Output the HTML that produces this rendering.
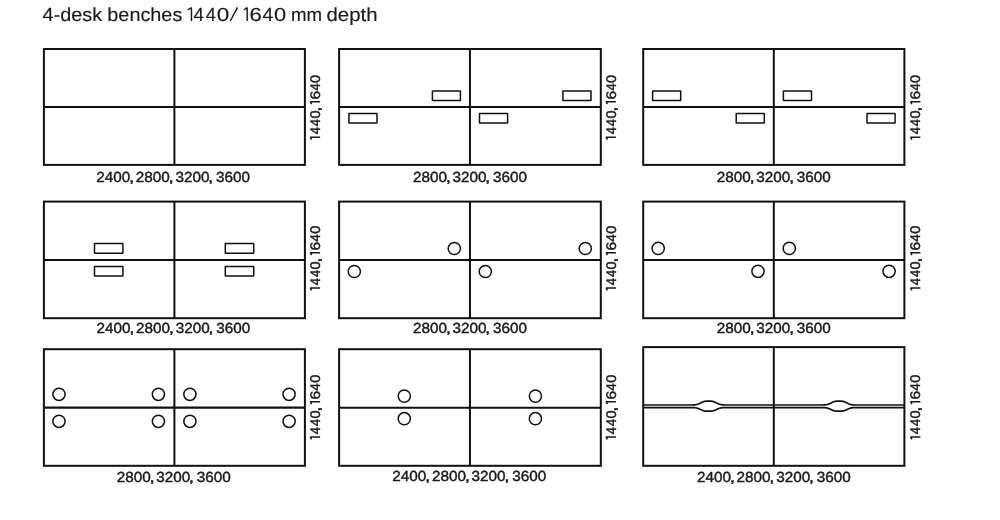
<!DOCTYPE html>
<html><head><meta charset="utf-8"><style>
html,body{margin:0;padding:0;background:#fff;width:1000px;height:520px;overflow:hidden}
svg{display:block}
.t{will-change:transform}
.g{fill:none;stroke:#111}
.t text.tt{stroke-width:0.15px}
.t text{text-rendering:geometricPrecision;fill:#1a1a1a;stroke:#1a1a1a;stroke-width:0.42px;font-family:"Liberation Sans",sans-serif}
</style></head><body>
<svg width="1000" height="520" viewBox="0 0 1000 520">
<g class="g">
<rect x="43.90" y="49.00" width="261.00" height="115.90" stroke-width="2.0"/>
<line x1="174.40" y1="49.00" x2="174.40" y2="164.90" stroke-width="2.0"/>
<line x1="43.90" y1="107.00" x2="304.90" y2="107.00" stroke-width="2.1"/>
<rect x="339.10" y="49.00" width="261.70" height="115.90" stroke-width="2.0"/>
<line x1="469.95" y1="49.00" x2="469.95" y2="164.90" stroke-width="2.0"/>
<line x1="339.10" y1="107.00" x2="600.80" y2="107.00" stroke-width="2.1"/>
<rect x="643.20" y="49.00" width="261.20" height="115.90" stroke-width="2.0"/>
<line x1="773.80" y1="49.00" x2="773.80" y2="164.90" stroke-width="2.0"/>
<line x1="643.20" y1="107.00" x2="904.40" y2="107.00" stroke-width="2.1"/>
<rect x="43.90" y="201.60" width="261.00" height="116.60" stroke-width="2.0"/>
<line x1="174.40" y1="201.60" x2="174.40" y2="318.20" stroke-width="2.0"/>
<line x1="43.90" y1="260.00" x2="304.90" y2="260.00" stroke-width="2.0"/>
<rect x="339.10" y="201.60" width="261.70" height="116.60" stroke-width="2.0"/>
<line x1="469.95" y1="201.60" x2="469.95" y2="318.20" stroke-width="2.0"/>
<line x1="339.10" y1="260.00" x2="600.80" y2="260.00" stroke-width="2.0"/>
<rect x="643.20" y="201.60" width="261.20" height="116.60" stroke-width="2.0"/>
<line x1="773.80" y1="201.60" x2="773.80" y2="318.20" stroke-width="2.0"/>
<line x1="643.20" y1="260.00" x2="904.40" y2="260.00" stroke-width="2.0"/>
<rect x="43.90" y="349.20" width="261.00" height="116.60" stroke-width="2.0"/>
<line x1="174.40" y1="349.20" x2="174.40" y2="465.80" stroke-width="2.0"/>
<line x1="43.90" y1="407.70" x2="304.90" y2="407.70" stroke-width="2.3"/>
<rect x="339.10" y="349.20" width="261.70" height="116.60" stroke-width="2.0"/>
<line x1="469.95" y1="349.20" x2="469.95" y2="465.80" stroke-width="2.0"/>
<line x1="339.10" y1="407.70" x2="600.80" y2="407.70" stroke-width="2.1"/>
<rect x="643.20" y="347.10" width="261.20" height="118.70" stroke-width="2.0"/>
<line x1="773.80" y1="347.10" x2="773.80" y2="465.80" stroke-width="2.0"/>
<rect x="432.4" y="91" width="28.0" height="9.6" rx="0.3" stroke-width="1.5"/>
<rect x="562.9" y="91" width="28.1" height="9.6" rx="0.3" stroke-width="1.5"/>
<rect x="348.9" y="113.5" width="28.1" height="9.6" rx="0.3" stroke-width="1.5"/>
<rect x="479.5" y="113.5" width="28.1" height="9.6" rx="0.3" stroke-width="1.5"/>
<rect x="652.6" y="91" width="28.1" height="9.6" rx="0.3" stroke-width="1.5"/>
<rect x="783.4" y="91" width="28.1" height="9.6" rx="0.3" stroke-width="1.5"/>
<rect x="736.2" y="113.5" width="28.1" height="9.6" rx="0.3" stroke-width="1.5"/>
<rect x="867.0" y="113.5" width="28.1" height="9.6" rx="0.3" stroke-width="1.5"/>
<rect x="94.5" y="243.6" width="28.4" height="9.6" rx="0.3" stroke-width="1.5"/>
<rect x="225.3" y="243.6" width="28.4" height="9.6" rx="0.3" stroke-width="1.5"/>
<rect x="94.5" y="266.5" width="28.4" height="9.6" rx="0.3" stroke-width="1.5"/>
<rect x="225.3" y="266.5" width="28.4" height="9.6" rx="0.3" stroke-width="1.5"/>
<circle cx="454.3" cy="248.5" r="6.1" stroke-width="1.5"/>
<circle cx="585.3" cy="248.5" r="6.1" stroke-width="1.5"/>
<circle cx="354.3" cy="271.5" r="6.1" stroke-width="1.5"/>
<circle cx="485.3" cy="271.5" r="6.1" stroke-width="1.5"/>
<circle cx="658.2" cy="248.4" r="6.1" stroke-width="1.5"/>
<circle cx="789.3" cy="248.4" r="6.1" stroke-width="1.5"/>
<circle cx="758.0" cy="271.3" r="6.1" stroke-width="1.5"/>
<circle cx="889.1" cy="271.3" r="6.1" stroke-width="1.5"/>
<circle cx="59.0" cy="394.3" r="6.1" stroke-width="1.5"/>
<circle cx="59.0" cy="421.3" r="6.1" stroke-width="1.5"/>
<circle cx="158.4" cy="394.3" r="6.1" stroke-width="1.5"/>
<circle cx="158.4" cy="421.3" r="6.1" stroke-width="1.5"/>
<circle cx="189.9" cy="394.3" r="6.1" stroke-width="1.5"/>
<circle cx="189.9" cy="421.3" r="6.1" stroke-width="1.5"/>
<circle cx="289.1" cy="394.3" r="6.1" stroke-width="1.5"/>
<circle cx="289.1" cy="421.3" r="6.1" stroke-width="1.5"/>
<circle cx="404.3" cy="396.1" r="6.1" stroke-width="1.5"/>
<circle cx="404.3" cy="418.7" r="6.1" stroke-width="1.5"/>
<circle cx="535.4" cy="396.1" r="6.1" stroke-width="1.5"/>
<circle cx="535.4" cy="418.7" r="6.1" stroke-width="1.5"/>
<path d="M643.2 405.0 L692.6 405.0 L692.60 404.976 L693.10 404.962 L693.60 404.941 L694.10 404.912 L694.60 404.871 L695.10 404.817 L695.60 404.746 L696.10 404.656 L696.60 404.545 L697.10 404.411 L697.60 404.255 L698.10 404.075 L698.60 403.875 L699.10 403.657 L699.60 403.424 L700.10 403.182 L700.60 402.936 L701.10 402.692 L701.60 402.454 L702.10 402.228 L702.60 402.018 L703.10 401.829 L703.60 401.661 L704.10 401.518 L704.60 401.398 L705.10 401.302 L705.60 401.229 L706.10 401.175 L706.60 401.139 L707.10 401.116 L707.60 401.105 L708.10 401.101 L708.60 401.100 L709.10 401.101 L709.60 401.105 L710.10 401.116 L710.60 401.139 L711.10 401.175 L711.60 401.229 L712.10 401.302 L712.60 401.398 L713.10 401.518 L713.60 401.661 L714.10 401.829 L714.60 402.018 L715.10 402.228 L715.60 402.454 L716.10 402.692 L716.60 402.936 L717.10 403.182 L717.60 403.424 L718.10 403.657 L718.60 403.875 L719.10 404.075 L719.60 404.255 L720.10 404.411 L720.60 404.545 L721.10 404.656 L721.60 404.746 L722.10 404.817 L722.60 404.871 L723.10 404.912 L723.60 404.941 L724.10 404.962 L724.60 404.976 L823.0 405.0 L823.00 404.976 L823.50 404.962 L824.00 404.941 L824.50 404.912 L825.00 404.871 L825.50 404.817 L826.00 404.746 L826.50 404.656 L827.00 404.545 L827.50 404.411 L828.00 404.255 L828.50 404.075 L829.00 403.875 L829.50 403.657 L830.00 403.424 L830.50 403.182 L831.00 402.936 L831.50 402.692 L832.00 402.454 L832.50 402.228 L833.00 402.018 L833.50 401.829 L834.00 401.661 L834.50 401.518 L835.00 401.398 L835.50 401.302 L836.00 401.229 L836.50 401.175 L837.00 401.139 L837.50 401.116 L838.00 401.105 L838.50 401.101 L839.00 401.100 L839.50 401.101 L840.00 401.105 L840.50 401.116 L841.00 401.139 L841.50 401.175 L842.00 401.229 L842.50 401.302 L843.00 401.398 L843.50 401.518 L844.00 401.661 L844.50 401.829 L845.00 402.018 L845.50 402.228 L846.00 402.454 L846.50 402.692 L847.00 402.936 L847.50 403.182 L848.00 403.424 L848.50 403.657 L849.00 403.875 L849.50 404.075 L850.00 404.255 L850.50 404.411 L851.00 404.545 L851.50 404.656 L852.00 404.746 L852.50 404.817 L853.00 404.871 L853.50 404.912 L854.00 404.941 L854.50 404.962 L855.00 404.976 L904.4 405.0" stroke-width="1.7"/>
<path d="M643.2 407.6 L692.6 407.6 L692.60 407.622 L693.10 407.635 L693.60 407.654 L694.10 407.681 L694.60 407.719 L695.10 407.769 L695.60 407.834 L696.10 407.918 L696.60 408.020 L697.10 408.143 L697.60 408.288 L698.10 408.454 L698.60 408.638 L699.10 408.840 L699.60 409.054 L700.10 409.278 L700.60 409.505 L701.10 409.731 L701.60 409.950 L702.10 410.159 L702.60 410.352 L703.10 410.527 L703.60 410.682 L704.10 410.814 L704.60 410.925 L705.10 411.013 L705.60 411.081 L706.10 411.131 L706.60 411.164 L707.10 411.185 L707.60 411.196 L708.10 411.199 L708.60 411.200 L709.10 411.199 L709.60 411.196 L710.10 411.185 L710.60 411.164 L711.10 411.131 L711.60 411.081 L712.10 411.013 L712.60 410.925 L713.10 410.814 L713.60 410.682 L714.10 410.527 L714.60 410.352 L715.10 410.159 L715.60 409.950 L716.10 409.731 L716.60 409.505 L717.10 409.278 L717.60 409.054 L718.10 408.840 L718.60 408.638 L719.10 408.454 L719.60 408.288 L720.10 408.143 L720.60 408.020 L721.10 407.918 L721.60 407.834 L722.10 407.769 L722.60 407.719 L723.10 407.681 L723.60 407.654 L724.10 407.635 L724.60 407.622 L823.0 407.6 L823.00 407.622 L823.50 407.635 L824.00 407.654 L824.50 407.681 L825.00 407.719 L825.50 407.769 L826.00 407.834 L826.50 407.918 L827.00 408.020 L827.50 408.143 L828.00 408.288 L828.50 408.454 L829.00 408.638 L829.50 408.840 L830.00 409.054 L830.50 409.278 L831.00 409.505 L831.50 409.731 L832.00 409.950 L832.50 410.159 L833.00 410.352 L833.50 410.527 L834.00 410.682 L834.50 410.814 L835.00 410.925 L835.50 411.013 L836.00 411.081 L836.50 411.131 L837.00 411.164 L837.50 411.185 L838.00 411.196 L838.50 411.199 L839.00 411.200 L839.50 411.199 L840.00 411.196 L840.50 411.185 L841.00 411.164 L841.50 411.131 L842.00 411.081 L842.50 411.013 L843.00 410.925 L843.50 410.814 L844.00 410.682 L844.50 410.527 L845.00 410.352 L845.50 410.159 L846.00 409.950 L846.50 409.731 L847.00 409.505 L847.50 409.278 L848.00 409.054 L848.50 408.840 L849.00 408.638 L849.50 408.454 L850.00 408.288 L850.50 408.143 L851.00 408.020 L851.50 407.918 L852.00 407.834 L852.50 407.769 L853.00 407.719 L853.50 407.681 L854.00 407.654 L854.50 407.635 L855.00 407.622 L904.4 407.6" stroke-width="1.7"/>
</g>
<g class="t">
<text class="tt" transform="translate(42.60 21.4) scale(1.0456 1)" font-size="19.0">4-desk</text>
<text class="tt" transform="translate(107.31 21.4) scale(1.0441 1)" font-size="19.0">benches</text>
<text class="tt" transform="translate(290.99 21.4) scale(0.9838 1)" font-size="19.0">mm</text>
<text class="tt" transform="translate(326.48 21.4) scale(1.0746 1)" font-size="19.0">depth</text>
<text class="tt" transform="translate(193.62 21.4) scale(0.9907 1)" font-size="19.0">4</text>
<text class="tt" transform="translate(205.64 21.4) scale(0.9598 1)" font-size="19.0">4</text>
<text class="tt" transform="translate(216.80 21.4) scale(1.1842 1)" font-size="19.0">0</text>
<text class="tt" transform="translate(249.49 21.4) scale(1.1670 1)" font-size="19.0">6</text>
<text class="tt" transform="translate(262.51 21.4) scale(1.0217 1)" font-size="19.0">4</text>
<text class="tt" transform="translate(274.02 21.4) scale(1.1513 1)" font-size="19.0">0</text>
<text transform="translate(96.24 182) scale(1.05 1)" font-size="14.57">2400</text>
<text transform="translate(129.00 182) scale(1.3 1)" font-size="14.57">,</text>
<text transform="translate(135.84 182) scale(1.05 1)" font-size="14.57">2800</text>
<text transform="translate(168.60 182) scale(1.3 1)" font-size="14.57">,</text>
<text transform="translate(175.49 182) scale(1.05 1)" font-size="14.57">3200</text>
<text transform="translate(208.10 182) scale(1.3 1)" font-size="14.57">,</text>
<text transform="translate(216.09 182) scale(1.05 1)" font-size="14.57">3600</text>
<g transform="translate(320.1 139.7) rotate(-90)"><text transform="translate(5.34 0) scale(0.9244 1)" font-size="14.0">4</text><text transform="translate(13.49 0) scale(0.9244 1)" font-size="14.0">4</text><text transform="translate(21.12 0) scale(1.0417 1)" font-size="14.0">0</text><text transform="translate(27.94 0) scale(1.3571 1)" font-size="14.0">,</text><text transform="translate(40.22 0) scale(1.1180 1)" font-size="14.0">6</text><text transform="translate(49.19 0) scale(0.9244 1)" font-size="14.0">4</text><text transform="translate(56.82 0) scale(1.0417 1)" font-size="14.0">0</text></g>
<text transform="translate(412.94 182) scale(1.05 1)" font-size="14.57">2800</text>
<text transform="translate(445.70 182) scale(1.3 1)" font-size="14.57">,</text>
<text transform="translate(452.49 182) scale(1.05 1)" font-size="14.57">3200</text>
<text transform="translate(485.10 182) scale(1.3 1)" font-size="14.57">,</text>
<text transform="translate(492.89 182) scale(1.05 1)" font-size="14.57">3600</text>
<g transform="translate(615.9 139.7) rotate(-90)"><text transform="translate(5.34 0) scale(0.9244 1)" font-size="14.0">4</text><text transform="translate(13.49 0) scale(0.9244 1)" font-size="14.0">4</text><text transform="translate(21.12 0) scale(1.0417 1)" font-size="14.0">0</text><text transform="translate(27.94 0) scale(1.3571 1)" font-size="14.0">,</text><text transform="translate(40.22 0) scale(1.1180 1)" font-size="14.0">6</text><text transform="translate(49.19 0) scale(0.9244 1)" font-size="14.0">4</text><text transform="translate(56.82 0) scale(1.0417 1)" font-size="14.0">0</text></g>
<text transform="translate(716.79 182) scale(1.05 1)" font-size="14.57">2800</text>
<text transform="translate(749.55 182) scale(1.3 1)" font-size="14.57">,</text>
<text transform="translate(756.34 182) scale(1.05 1)" font-size="14.57">3200</text>
<text transform="translate(788.95 182) scale(1.3 1)" font-size="14.57">,</text>
<text transform="translate(796.74 182) scale(1.05 1)" font-size="14.57">3600</text>
<g transform="translate(920.4 139.7) rotate(-90)"><text transform="translate(5.34 0) scale(0.9244 1)" font-size="14.0">4</text><text transform="translate(13.49 0) scale(0.9244 1)" font-size="14.0">4</text><text transform="translate(21.12 0) scale(1.0417 1)" font-size="14.0">0</text><text transform="translate(27.94 0) scale(1.3571 1)" font-size="14.0">,</text><text transform="translate(40.22 0) scale(1.1180 1)" font-size="14.0">6</text><text transform="translate(49.19 0) scale(0.9244 1)" font-size="14.0">4</text><text transform="translate(56.82 0) scale(1.0417 1)" font-size="14.0">0</text></g>
<text transform="translate(96.44 333) scale(1.05 1)" font-size="14.57">2400</text>
<text transform="translate(129.20 333) scale(1.3 1)" font-size="14.57">,</text>
<text transform="translate(136.04 333) scale(1.05 1)" font-size="14.57">2800</text>
<text transform="translate(168.80 333) scale(1.3 1)" font-size="14.57">,</text>
<text transform="translate(175.69 333) scale(1.05 1)" font-size="14.57">3200</text>
<text transform="translate(208.30 333) scale(1.3 1)" font-size="14.57">,</text>
<text transform="translate(216.29 333) scale(1.05 1)" font-size="14.57">3600</text>
<g transform="translate(320.1 290.6) rotate(-90)"><text transform="translate(5.34 0) scale(0.9244 1)" font-size="14.0">4</text><text transform="translate(13.49 0) scale(0.9244 1)" font-size="14.0">4</text><text transform="translate(21.12 0) scale(1.0417 1)" font-size="14.0">0</text><text transform="translate(27.94 0) scale(1.3571 1)" font-size="14.0">,</text><text transform="translate(40.22 0) scale(1.1180 1)" font-size="14.0">6</text><text transform="translate(49.19 0) scale(0.9244 1)" font-size="14.0">4</text><text transform="translate(56.82 0) scale(1.0417 1)" font-size="14.0">0</text></g>
<text transform="translate(412.94 333) scale(1.05 1)" font-size="14.57">2800</text>
<text transform="translate(445.70 333) scale(1.3 1)" font-size="14.57">,</text>
<text transform="translate(452.49 333) scale(1.05 1)" font-size="14.57">3200</text>
<text transform="translate(485.10 333) scale(1.3 1)" font-size="14.57">,</text>
<text transform="translate(492.89 333) scale(1.05 1)" font-size="14.57">3600</text>
<g transform="translate(615.9 290.6) rotate(-90)"><text transform="translate(5.34 0) scale(0.9244 1)" font-size="14.0">4</text><text transform="translate(13.49 0) scale(0.9244 1)" font-size="14.0">4</text><text transform="translate(21.12 0) scale(1.0417 1)" font-size="14.0">0</text><text transform="translate(27.94 0) scale(1.3571 1)" font-size="14.0">,</text><text transform="translate(40.22 0) scale(1.1180 1)" font-size="14.0">6</text><text transform="translate(49.19 0) scale(0.9244 1)" font-size="14.0">4</text><text transform="translate(56.82 0) scale(1.0417 1)" font-size="14.0">0</text></g>
<text transform="translate(716.79 333) scale(1.05 1)" font-size="14.57">2800</text>
<text transform="translate(749.55 333) scale(1.3 1)" font-size="14.57">,</text>
<text transform="translate(756.34 333) scale(1.05 1)" font-size="14.57">3200</text>
<text transform="translate(788.95 333) scale(1.3 1)" font-size="14.57">,</text>
<text transform="translate(796.74 333) scale(1.05 1)" font-size="14.57">3600</text>
<g transform="translate(920.4 290.6) rotate(-90)"><text transform="translate(5.34 0) scale(0.9244 1)" font-size="14.0">4</text><text transform="translate(13.49 0) scale(0.9244 1)" font-size="14.0">4</text><text transform="translate(21.12 0) scale(1.0417 1)" font-size="14.0">0</text><text transform="translate(27.94 0) scale(1.3571 1)" font-size="14.0">,</text><text transform="translate(40.22 0) scale(1.1180 1)" font-size="14.0">6</text><text transform="translate(49.19 0) scale(0.9244 1)" font-size="14.0">4</text><text transform="translate(56.82 0) scale(1.0417 1)" font-size="14.0">0</text></g>
<text transform="translate(116.69 482) scale(1.05 1)" font-size="14.57">2800</text>
<text transform="translate(149.45 482) scale(1.3 1)" font-size="14.57">,</text>
<text transform="translate(156.24 482) scale(1.05 1)" font-size="14.57">3200</text>
<text transform="translate(188.85 482) scale(1.3 1)" font-size="14.57">,</text>
<text transform="translate(196.64 482) scale(1.05 1)" font-size="14.57">3600</text>
<g transform="translate(320.1 439.6) rotate(-90)"><text transform="translate(5.34 0) scale(0.9244 1)" font-size="14.0">4</text><text transform="translate(13.49 0) scale(0.9244 1)" font-size="14.0">4</text><text transform="translate(21.12 0) scale(1.0417 1)" font-size="14.0">0</text><text transform="translate(27.94 0) scale(1.3571 1)" font-size="14.0">,</text><text transform="translate(40.22 0) scale(1.1180 1)" font-size="14.0">6</text><text transform="translate(49.19 0) scale(0.9244 1)" font-size="14.0">4</text><text transform="translate(56.82 0) scale(1.0417 1)" font-size="14.0">0</text></g>
<text transform="translate(392.29 481) scale(1.05 1)" font-size="14.57">2400</text>
<text transform="translate(425.05 481) scale(1.3 1)" font-size="14.57">,</text>
<text transform="translate(431.89 481) scale(1.05 1)" font-size="14.57">2800</text>
<text transform="translate(464.65 481) scale(1.3 1)" font-size="14.57">,</text>
<text transform="translate(471.54 481) scale(1.05 1)" font-size="14.57">3200</text>
<text transform="translate(504.15 481) scale(1.3 1)" font-size="14.57">,</text>
<text transform="translate(512.14 481) scale(1.05 1)" font-size="14.57">3600</text>
<g transform="translate(615.9 439.6) rotate(-90)"><text transform="translate(5.34 0) scale(0.9244 1)" font-size="14.0">4</text><text transform="translate(13.49 0) scale(0.9244 1)" font-size="14.0">4</text><text transform="translate(21.12 0) scale(1.0417 1)" font-size="14.0">0</text><text transform="translate(27.94 0) scale(1.3571 1)" font-size="14.0">,</text><text transform="translate(40.22 0) scale(1.1180 1)" font-size="14.0">6</text><text transform="translate(49.19 0) scale(0.9244 1)" font-size="14.0">4</text><text transform="translate(56.82 0) scale(1.0417 1)" font-size="14.0">0</text></g>
<text transform="translate(696.94 482) scale(1.05 1)" font-size="14.57">2400</text>
<text transform="translate(729.70 482) scale(1.3 1)" font-size="14.57">,</text>
<text transform="translate(736.54 482) scale(1.05 1)" font-size="14.57">2800</text>
<text transform="translate(769.30 482) scale(1.3 1)" font-size="14.57">,</text>
<text transform="translate(776.19 482) scale(1.05 1)" font-size="14.57">3200</text>
<text transform="translate(808.80 482) scale(1.3 1)" font-size="14.57">,</text>
<text transform="translate(816.79 482) scale(1.05 1)" font-size="14.57">3600</text>
<g transform="translate(920.4 439.6) rotate(-90)"><text transform="translate(5.34 0) scale(0.9244 1)" font-size="14.0">4</text><text transform="translate(13.49 0) scale(0.9244 1)" font-size="14.0">4</text><text transform="translate(21.12 0) scale(1.0417 1)" font-size="14.0">0</text><text transform="translate(27.94 0) scale(1.3571 1)" font-size="14.0">,</text><text transform="translate(40.22 0) scale(1.1180 1)" font-size="14.0">6</text><text transform="translate(49.19 0) scale(0.9244 1)" font-size="14.0">4</text><text transform="translate(56.82 0) scale(1.0417 1)" font-size="14.0">0</text></g>
</g>
<path d="M191.45 21.00V7.70L187.70 10.00 M230.3 21.0L237.5 7.4 M247.15 21.00V7.70L243.90 10.00 M320.10 137.15H310.30L311.60 139.55 M320.10 101.80H310.30L311.60 104.20 M615.90 137.15H606.10L607.40 139.55 M615.90 101.80H606.10L607.40 104.20 M920.40 137.15H910.60L911.90 139.55 M920.40 101.80H910.60L911.90 104.20 M320.10 288.05H310.30L311.60 290.45 M320.10 252.70H310.30L311.60 255.10 M615.90 288.05H606.10L607.40 290.45 M615.90 252.70H606.10L607.40 255.10 M920.40 288.05H910.60L911.90 290.45 M920.40 252.70H910.60L911.90 255.10 M320.10 437.05H310.30L311.60 439.45 M320.10 401.70H310.30L311.60 404.10 M615.90 437.05H606.10L607.40 439.45 M615.90 401.70H606.10L607.40 404.10 M920.40 437.05H910.60L911.90 439.45 M920.40 401.70H910.60L911.90 404.10" fill="none" stroke="#1a1a1a" stroke-width="1.45" stroke-linejoin="bevel"/>
</svg>
</body></html>
